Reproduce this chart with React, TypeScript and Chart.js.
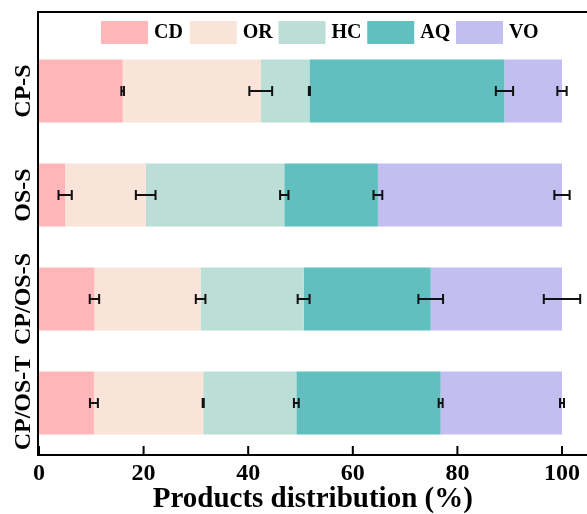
import React, { useEffect, useRef } from "react";
import { Chart, registerables } from "chart.js";

Chart.register(...registerables);

const categories = ["CP-S", "OS-S", "CP/OS-S", "CP/OS-T"];
const seriesNames = ["CD", "OR", "HC", "AQ", "VO"];

const CD = [16.0, 5.0, 10.6, 10.5];
const OR = [26.4, 15.4, 20.3, 20.9];
const HC = [9.3, 26.5, 19.7, 17.8];
const AQ = [37.3, 17.9, 24.3, 27.6];
const VO = [11.0, 35.2, 25.1, 23.2];

const CD_err = [0.25, 1.27, 0.9, 0.76];
const OR_err = [2.18, 1.88, 0.92, 0.1];
const HC_err = [0.1, 0.8, 1.14, 0.46];
const AQ_err = [1.65, 0.84, 2.36, 0.38];
const VO_err = [0.89, 1.46, 3.48, 0.38];

const xTicks = [0, 20, 40, 60, 80, 100];
const xTitle = "Products distribution (%)";

const colors = ["#FFB6B9", "#FAE3D9", "#BBDED6", "#61C0BF", "#C3BEF0"];
const FONT = "'Liberation Serif', 'Times New Roman', Times, serif";

export default function App() {
  const ref = useRef<HTMLCanvasElement | null>(null);

  useEffect(() => {
    if (!ref.current) return;
    const values = [CD, OR, HC, AQ, VO];
    const errs = [CD_err, OR_err, HC_err, AQ_err, VO_err];

    const datasets = seriesNames.map((name, s) => ({
      label: name,
      data: values[s].map((v, i) => ({ x: v, y: i })),
      backgroundColor: colors[s],
      borderWidth: 0,
      categoryPercentage: 1,
      barPercentage: 0.605,
    }));

    const decor = {
      id: "decor",
      afterDatasetsDraw(chart: any) {
        const ctx = chart.ctx;
        const xs = chart.scales.x;
        ctx.save();
        ctx.strokeStyle = "#111";
        ctx.lineWidth = 2;
        values.forEach((_, s) => {
          const meta = chart.getDatasetMeta(s);
          meta.data.forEach((el: any, i: number) => {
            let cum = 0;
            for (let k = 0; k <= s; k++) cum += values[k][i];
            const e = errs[s][i];
            const x1 = xs.getPixelForValue(cum - e);
            const x2 = xs.getPixelForValue(cum + e);
            const y = el.y;
            ctx.beginPath();
            ctx.moveTo(x1, y);
            ctx.lineTo(x2, y);
            ctx.moveTo(x1, y - 5);
            ctx.lineTo(x1, y + 5);
            ctx.moveTo(x2, y - 5);
            ctx.lineTo(x2, y + 5);
            ctx.stroke();
          });
        });
        ctx.restore();
      },
      afterDraw(chart: any) {
        const ctx = chart.ctx;
        const a = chart.chartArea;
        const xs = chart.scales.x;
        const ys = chart.scales.y;
        ctx.save();
        ctx.strokeStyle = "#000";
        ctx.lineWidth = 2;
        ctx.beginPath();
        ctx.moveTo(a.left - 2, a.top - 1);
        ctx.lineTo(a.right + 2, a.top - 1);
        ctx.moveTo(a.left - 1, a.top - 2);
        ctx.lineTo(a.left - 1, a.bottom + 1);
        ctx.moveTo(a.left - 2, a.bottom);
        ctx.lineTo(a.right + 2, a.bottom);
        xTicks.forEach((t) => {
          const px = xs.getPixelForValue(t);
          ctx.moveTo(px, a.bottom);
          ctx.lineTo(px, a.bottom - 9);
        });
        ctx.stroke();

        // category labels (rotated)
        ctx.fillStyle = "#000";
        ctx.font = `bold 24px ${FONT}`;
        ctx.textAlign = "center";
        ctx.textBaseline = "middle";
        categories.forEach((c, i) => {
          ctx.save();
          ctx.translate(24, ys.getPixelForValue(i));
          ctx.rotate(-Math.PI / 2);
          ctx.fillText(c, 0, 0);
          ctx.restore();
        });

        // legend
        ctx.font = `bold 20px ${FONT}`;
        ctx.textAlign = "left";
        chart.data.datasets.forEach((ds: any, s: number) => {
          const bx = 101 + s * 88.75;
          ctx.fillStyle = ds.backgroundColor;
          ctx.fillRect(bx, 21, 47, 23);
          ctx.fillStyle = "#000";
          ctx.fillText(ds.label, bx + 53, 33);
        });
        ctx.restore();
      },
    };

    const chart = new Chart(ref.current, {
      type: "bar",
      data: { datasets } as any,
      options: {
        indexAxis: "y",
        responsive: false,
        animation: false,
        devicePixelRatio: 1,
        layout: { padding: { left: 39, top: 13, right: 0, bottom: 0 } },
        plugins: {
          legend: { display: false },
          tooltip: { enabled: false },
        },
        scales: {
          x: {
            type: "linear",
            stacked: true,
            min: 0,
            max: 104.7,
            afterBuildTicks: (s: any) => {
              s.ticks = xTicks.map((v) => ({ value: v }));
            },
            afterFit: (s: any) => {
              s.height = 59;
            },
            grid: { display: false, drawTicks: false },
            border: { display: false },
            ticks: {
              color: "#000",
              padding: 7,
              maxRotation: 0,
              font: { family: FONT, size: 24, weight: "bold", lineHeight: 1 },
            },
            title: {
              display: true,
              text: xTitle,
              color: "#000",
              padding: { top: 0, bottom: 0 },
              font: { family: FONT, size: 29, weight: "bold", lineHeight: 1 },
            },
          },
          y: {
            type: "linear",
            stacked: true,
            reverse: true,
            offset: false,
            min: -0.75,
            max: 3.5,
            display: false,
            afterBuildTicks: (s: any) => {
              s.ticks = categories.map((_, i) => ({ value: i }));
            },
          },
        },
      } as any,
      plugins: [decor],
    });

    return () => chart.destroy();
  }, []);

  return (
    <div
      style={{
        position: "fixed",
        left: 0,
        top: 0,
        width: 587,
        height: 514,
        background: "#fff",
      }}
    >
      <canvas ref={ref} width={587} height={514} style={{ display: "block" }} />
    </div>
  );
}
